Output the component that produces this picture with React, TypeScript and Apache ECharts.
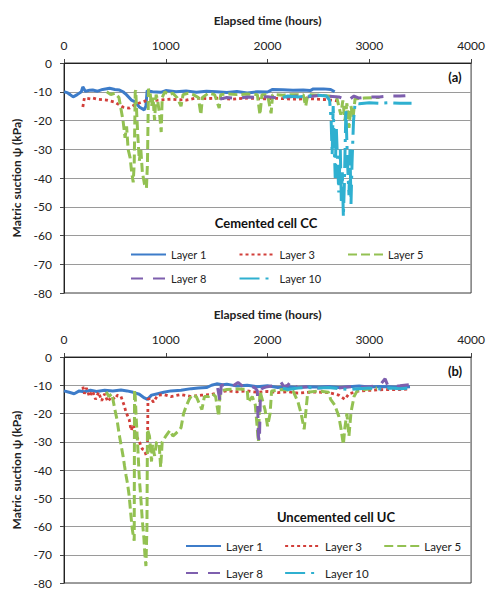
import React, { useEffect, useRef } from "react";
import * as echarts from "echarts";

// ---- Data (elapsed time in hours, matric suction in kPa) ----
const xTicks = [0, 1000, 2000, 3000, 4000];
const layerNames = ["Layer 1", "Layer 3", "Layer 5", "Layer 8", "Layer 10"];

// Panel (a) Cemented cell CC
const ccLayer1: number[][] = [
  [0, -10], [30, -10.3], [60, -11], [90, -11.8], [130, -11], [170, -10], [185, -8.3], [210, -9.8],
  [250, -9.5], [282, -9.4], [330, -9.8], [380, -9.2], [448, -8.8], [500, -9.2], [545, -9.4],
  [580, -10], [613, -11], [662, -12.9], [700, -13.5], [740, -15.3], [788, -16.3], [805, -15],
  [817, -9.6], [870, -10], [950, -10.2], [1000, -9.6], [1100, -10], [1200, -9.7], [1300, -10.2],
  [1400, -9.8], [1500, -10], [1600, -10.3], [1700, -9.9], [1800, -10.4], [1900, -10], [2000, -10.1],
  [2050, -9.2], [2150, -9.3], [2250, -9.5], [2350, -9.4], [2420, -9.6], [2450, -9], [2550, -9],
  [2620, -9.2], [2660, -10]
];
const ccLayer3: number[][] = [
  [185, -15.3], [200, -12.2], [260, -12.5], [282, -12.2], [330, -12.6], [420, -12.9], [500, -13.6],
  [575, -15.3], [643, -15.7], [690, -14.6], [740, -13.9], [800, -13.2], [930, -12.9], [1050, -12.6],
  [1200, -12.9], [1300, -12.2], [1400, -12.4], [1520, -12.2], [1650, -12.6], [1800, -12.2],
  [1950, -12.5], [2100, -12.3], [2250, -12.6], [2400, -12.4], [2550, -12.7], [2620, -12.9], [2700, -13.2]
];
const ccLayer5: number[][] = [
  [420, -10], [460, -11], [500, -10.5], [540, -12], [560, -16], [580, -20], [600, -26], [615, -22],
  [630, -30], [650, -33], [665, -38], [680, -41.5], [690, -35], [700, -10], [705, -9.5], [715, -18],
  [725, -25], [740, -34], [755, -30], [770, -38], [790, -42], [810, -43.5], [820, -35], [830, -9],
  [845, -10], [860, -15], [875, -12], [890, -20], [905, -11], [920, -13], [940, -18], [955, -24],
  [965, -12], [990, -10], [1030, -11], [1070, -10.5], [1110, -12], [1150, -15], [1170, -11],
  [1220, -10.5], [1270, -11], [1320, -12], [1345, -18], [1360, -12], [1420, -10.5], [1480, -11],
  [1525, -15.7], [1540, -11], [1620, -10.8], [1700, -11], [1800, -10.8], [1900, -11], [1925, -18],
  [1945, -11], [2000, -11], [2035, -17.5], [2050, -11], [2150, -11.2], [2250, -11], [2350, -11],
  [2375, -15], [2395, -11], [2500, -11.2], [2600, -11.5], [2680, -12], [2700, -15], [2720, -18],
  [2740, -13], [2760, -20], [2780, -14], [2800, -22.6], [2820, -15], [2840, -19], [2860, -12.5],
  [2950, -12.2], [3050, -12], [3100, -12]
];
const ccLayer8: number[][] = [
  [1535, -12.5], [1600, -12], [1700, -12.3], [1800, -11.8], [1900, -12], [2000, -11.7], [2100, -12.2],
  [2200, -11.8], [2300, -11.5], [2400, -11.7], [2500, -11.3], [2600, -11.5], [2700, -11.8],
  [2750, -12.5], [2800, -12.8], [2850, -11.5], [2900, -12.2], [3000, -11.8], [3100, -11.8],
  [3200, -11.5], [3300, -11.5], [3400, -11.3]
];
const ccLayer10: number[][] = [
  [2150, -12], [2200, -11.5], [2300, -11.8], [2400, -11.5], [2500, -11.2], [2580, -11.5], [2610, -13],
  [2625, -20], [2635, -32], [2645, -15], [2655, -28], [2665, -40], [2675, -22], [2690, -36],
  [2700, -45], [2715, -30], [2725, -48], [2735, -38], [2745, -53.5], [2755, -42], [2770, -16],
  [2780, -28], [2790, -38], [2800, -46], [2810, -30], [2820, -49], [2830, -35], [2845, -20],
  [2860, -14], [2900, -14.2], [3000, -13.8], [3100, -14], [3200, -13.8], [3300, -14], [3415, -14]
];

// Panel (b) Uncemented cell UC
const ucLayer1: number[][] = [
  [0, -12], [50, -12.5], [100, -13], [150, -12], [200, -12.3], [260, -11.8], [320, -12.2], [400, -11.8],
  [480, -12], [560, -11.7], [620, -12], [680, -12.5], [740, -13.2], [790, -14.5], [820, -15],
  [860, -13.5], [920, -13], [980, -12.5], [1050, -12], [1150, -11.8], [1250, -11.2], [1320, -11],
  [1400, -10.8], [1450, -10], [1500, -9.5], [1560, -9.8], [1600, -9.6], [1700, -10.3], [1800, -10],
  [1900, -10.5], [2000, -10.2], [2100, -10.8], [2200, -10.5], [2300, -10.8], [2400, -10.5],
  [2500, -10.6], [2600, -10.4], [2700, -10.8], [2800, -10.5], [2900, -10.3], [3000, -10.6],
  [3100, -10.4], [3200, -10.5], [3300, -10.7], [3400, -10.5]
];
const ucLayer3: number[][] = [
  [185, -10.5], [200, -13], [220, -11], [250, -14], [280, -12], [310, -15], [340, -12.5], [370, -15.5],
  [400, -13], [430, -15.8], [470, -14], [500, -15], [525, -13.5], [560, -14], [590, -17], [610, -19.6],
  [640, -22], [660, -26], [680, -24], [710, -28], [740, -30], [770, -32.6], [790, -33], [810, -35],
  [820, -33], [825, -15], [850, -14.5], [880, -16], [920, -13.5], [980, -13.3], [1050, -14],
  [1150, -13.3], [1250, -14], [1350, -13.5], [1450, -13.3], [1520, -12.5], [1600, -12], [1700, -12.3],
  [1800, -12], [1900, -12.5], [2000, -12.2], [2100, -12.6], [2200, -12.3], [2300, -12.8],
  [2400, -12.5], [2500, -12.4], [2600, -12.6], [2700, -13.5], [2760, -15], [2800, -13], [2900, -12],
  [3000, -11.8], [3100, -11.6], [3200, -11.5], [3300, -11.5], [3400, -11.3]
];
const ucLayer5: number[][] = [
  [415, -12.3], [440, -14], [470, -13], [500, -18.6], [520, -22], [545, -28], [560, -31], [580, -35],
  [595, -38.6], [610, -42], [625, -45], [640, -49], [655, -55], [670, -60.7], [680, -63], [690, -65],
  [693, -11.6], [700, -14], [710, -22], [725, -32], [740, -43], [755, -50], [770, -58], [785, -64],
  [795, -70], [805, -74], [815, -60], [820, -25.6], [840, -28], [860, -37], [870, -31], [890, -35],
  [910, -30], [935, -31], [950, -39], [965, -30], [1000, -28], [1040, -26], [1070, -28], [1100, -27],
  [1130, -26], [1150, -25], [1175, -20], [1200, -17.5], [1230, -15], [1260, -13.3], [1300, -14],
  [1355, -18.6], [1380, -14], [1420, -14], [1460, -13], [1490, -14], [1520, -21], [1535, -12],
  [1600, -11.5], [1700, -11.3], [1800, -11.5], [1810, -16], [1850, -14], [1880, -17], [1910, -30],
  [1925, -12], [1975, -18.6], [2000, -24.5], [2025, -20], [2040, -12], [2150, -11.5], [2250, -12],
  [2300, -16], [2330, -20], [2360, -25.6], [2380, -18], [2395, -12.5], [2500, -12], [2600, -12.5],
  [2620, -15], [2660, -17], [2700, -21], [2720, -25], [2745, -31], [2760, -25], [2780, -20],
  [2800, -28], [2820, -19.6], [2850, -14], [2880, -12], [2950, -11.5], [3075, -11]
];
const ucLayer8: number[][] = [
  [1510, -11], [1535, -16], [1545, -10], [1600, -9.8], [1650, -10.5], [1710, -9], [1760, -10.5],
  [1800, -10], [1850, -10.5], [1880, -11], [1900, -12], [1910, -28], [1920, -30], [1930, -13],
  [1950, -11], [2000, -10.5], [2050, -10.2], [2100, -9.5], [2130, -8.8], [2160, -10.5], [2200, -10],
  [2230, -8.5], [2260, -10.2], [2300, -10.8], [2400, -10.5], [2500, -11], [2600, -10.6], [2700, -11],
  [2800, -10.5], [2900, -10.8], [3000, -10.5], [3100, -10.2], [3155, -7.7], [3180, -10],
  [3250, -10.4], [3300, -10.2], [3390, -9.8]
];
const ucLayer10: number[][] = [
  [2150, -11], [2200, -11.5], [2300, -11], [2400, -10.8], [2500, -11], [2600, -10.8], [2700, -11.2],
  [2800, -11.5], [2900, -11.2], [3000, -11], [3100, -11.3], [3200, -11], [3300, -11.2], [3415, -11]
];

const colors = ["#3d7cc9", "#d23f3a", "#93c152", "#7e5fae", "#2fb0d0"];
const dashes: any[] = ["solid", [3, 3], [9, 4], [12, 10], [20, 6, 3, 6]];
const widths = [3, 2.8, 3, 3, 3];

const FONT = "Lato, 'Open Sans', sans-serif";

export default function App() {
  const ref = useRef<HTMLDivElement>(null);
  useEffect(() => {
    if (!ref.current) return;
    const chart = echarts.init(ref.current, undefined, { renderer: "svg" });
    const panels = [
      [ccLayer1, ccLayer3, ccLayer5, ccLayer8, ccLayer10],
      [ucLayer1, ucLayer3, ucLayer5, ucLayer8, ucLayer10],
    ];
    const tops = [63, 357];
    const grids = tops.map((t) => ({
      left: 64, top: t, width: 411, height: 230, show: true,
      borderColor: "#3a3a3a", borderWidth: 1, containLabel: false,
    }));
    const xAxes = tops.map((_, i) => ({
      type: "value", gridIndex: i, position: "top", min: xTicks[0], max: xTicks[xTicks.length - 1],
      interval: 1000, name: "Elapsed time (hours)", nameLocation: "middle", nameGap: 37,
      nameTextStyle: { fontFamily: FONT, fontWeight: "bold", fontSize: 12, color: "#222" },
      axisLine: { show: true, lineStyle: { color: "#222", width: 1 } },
      axisTick: { show: true, length: 4, lineStyle: { color: "#444" } },
      axisLabel: {
        fontFamily: FONT, fontSize: 12, color: "#222", margin: 12,
        formatter: (v: number) => String(v),
      },
      splitLine: { show: false },
    }));
    const yAxes = tops.map((_, i) => ({
      type: "value", gridIndex: i, min: -80, max: 0, interval: 10,
      name: "Matric suction ψ (kPa)", nameLocation: "middle", nameGap: 41,
      nameTextStyle: { fontFamily: FONT, fontWeight: "bold", fontSize: 12, color: "#222" },
      axisLine: { show: true, lineStyle: { color: "#222", width: 1 } },
      axisTick: { show: true, length: 4, lineStyle: { color: "#444" } },
      axisLabel: { fontFamily: FONT, fontSize: 12, color: "#222", margin: 12 },
      splitLine: { show: true, lineStyle: { color: "#9a9a9a", width: 1 } },
    }));
    const series: any[] = [];
    panels.forEach((layers, p) => {
      layers.forEach((data, k) => {
        series.push({
          type: "line", name: layerNames[k], xAxisIndex: p, yAxisIndex: p, data,
          symbol: "none", showSymbol: false, color: colors[k],
          lineStyle: { color: colors[k], width: widths[k], type: dashes[k] },
          z: 2 + k,
        });
      });
    });
    const legendBase = (left: number, top: number, names: string[], gap: number, fs: number) => ({
      left, top, padding: 0, itemWidth: 35, itemHeight: 12, itemGap: gap, data: names,
      selectedMode: false,
      textStyle: { fontFamily: FONT, fontSize: fs, color: "#222" },
      itemStyle: { opacity: 0 },
    });
    const legends = [
      legendBase(130, 249, ["Layer 1", "Layer 3", "Layer 5"], 32, 11),
      legendBase(130, 273, ["Layer 8", "Layer 10"], 32, 11),
      legendBase(185, 540, ["Layer 1", "Layer 3", "Layer 5"], 21, 11.5),
      legendBase(185, 567, ["Layer 8", "Layer 10"], 21, 11.5),
    ];
    const textEl = (text: string, x: number, y: number, size: number) => ({
      type: "text", x, y, z: 100,
      style: {
        text, font: `bold ${size}px ${FONT}`, fill: "#111",
        textAlign: "center", textVerticalAlign: "middle", align: "center", verticalAlign: "middle",
      },
    });
    chart.setOption({
      animation: false,
      backgroundColor: "#fff",
      grid: grids,
      xAxis: xAxes,
      yAxis: yAxes,
      legend: legends,
      series,
      graphic: [
        textEl("(a)", 455, 77, 13),
        textEl("(b)", 455, 371, 13),
        textEl("Cemented cell CC", 266, 223, 13),
        textEl("Uncemented cell UC", 336, 517, 13),
      ],
    });
    return () => chart.dispose();
  }, []);
  return (
    <div
      ref={ref}
      style={{ position: "absolute", left: 0, top: 0, width: 488, height: 589, background: "#fff" }}
    />
  );
}
